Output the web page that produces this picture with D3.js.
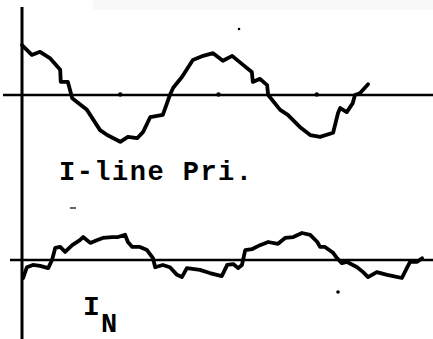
<!DOCTYPE html>
<html>
<head>
<meta charset="utf-8">
<script src="https://cdn.jsdelivr.net/npm/d3@7"></script>
<style>
  html, body { margin: 0; padding: 0; background: #fff; }
  svg { display: block; }
</style>
</head>
<body>
<svg id="chart" width="433" height="339"></svg>
<script>
// Phase angle (electrical degrees) and current (per unit) for the line primary current
const priDeg = [0, 18, 33, 51, 70, 71, 84, 88, 92, 119, 143, 156, 180, 194, 211, 222, 235, 258, 271, 277, 293, 313, 332, 350, 368, 385, 405, 421, 423, 436, 449, 451, 473, 487, 509, 528, 546, 570, 579, 583, 595, 606, 610, 619, 634];
const priVal = [1.11, 0.89, 0.96, 0.82, 0.56, 0.29, 0.29, 0.11, -0.07, -0.33, -0.78, -0.89, -1.04, -0.93, -0.96, -0.82, -0.49, -0.44, 0.0, 0.16, 0.40, 0.78, 0.87, 0.93, 0.76, 0.87, 0.67, 0.51, 0.29, 0.36, 0.22, 0.0, -0.33, -0.44, -0.71, -0.89, -0.93, -0.84, -0.40, -0.29, -0.38, -0.18, 0.0, 0.04, 0.24];

// Phase angle and current for the neutral current I_N
const neuDeg = [2, 9, 20, 33, 48, 55, 61, 70, 79, 92, 106, 112, 125, 137, 148, 165, 176, 189, 194, 202, 216, 229, 240, 244, 258, 271, 284, 293, 302, 326, 344, 366, 376, 387, 396, 403, 409, 421, 436, 451, 469, 482, 497, 513, 528, 541, 546, 555, 570, 577, 586, 595, 614, 625, 634, 650, 669, 680, 696, 705, 711, 724, 733];
const neuVal = [-0.40, -0.16, -0.11, -0.13, -0.18, 0.0, 0.27, 0.29, 0.18, 0.33, 0.44, 0.51, 0.38, 0.44, 0.49, 0.51, 0.51, 0.56, 0.40, 0.29, 0.29, 0.22, 0.04, -0.16, -0.11, -0.16, -0.33, -0.38, -0.18, -0.22, -0.29, -0.36, -0.11, -0.09, -0.18, -0.11, 0.22, 0.24, 0.33, 0.40, 0.36, 0.49, 0.51, 0.60, 0.56, 0.40, 0.29, 0.29, 0.16, 0.04, -0.07, -0.04, -0.16, -0.27, -0.38, -0.27, -0.33, -0.36, -0.40, -0.18, -0.04, -0.04, 0.04];

// Time-axis tick positions (degrees)
const tickDeg = [180, 360, 540];

const labelPri = "I-line Pri.";
const labelN = ["I", "N"];

const svg = d3.select("#chart");
const W = 433, H = 339;
const ink = "#000";

// faint band along the top edge of the sheet
svg.append("rect").attr("x", 93).attr("y", 0).attr("width", W - 93).attr("height", 10).attr("fill", "#f8f8f8");

const x = d3.scaleLinear().domain([0, 720]).range([22, 415]);
const yPri = d3.scaleLinear().domain([-1, 1]).range([140, 50]);
const yNeu = d3.scaleLinear().domain([-1, 1]).range([305, 215]);

// vertical axis
svg.append("line")
  .attr("x1", x(0)).attr("x2", x(0))
  .attr("y1", 7).attr("y2", H)
  .attr("stroke", ink).attr("stroke-width", 3);

// zero lines for the two traces
svg.append("line")
  .attr("x1", 3).attr("x2", W)
  .attr("y1", yPri(0)).attr("y2", yPri(0))
  .attr("stroke", ink).attr("stroke-width", 2.6);
svg.append("line")
  .attr("x1", 10).attr("x2", W)
  .attr("y1", yNeu(0)).attr("y2", yNeu(0))
  .attr("stroke", ink).attr("stroke-width", 2.6);

// tick dots on the primary zero line
svg.selectAll("circle.tick").data(tickDeg).join("circle")
  .attr("class", "tick")
  .attr("cx", d => x(d)).attr("cy", yPri(0) - 0.5)
  .attr("r", 2.2).attr("fill", ink);

const linePri = d3.line().x((d, i) => x(priDeg[i])).y(d => yPri(d)).curve(d3.curveLinear);
const lineNeu = d3.line().x((d, i) => x(neuDeg[i])).y(d => yNeu(d)).curve(d3.curveLinear);

svg.append("path").attr("d", linePri(priVal))
  .attr("fill", "none").attr("stroke", ink).attr("stroke-width", 3.8)
  .attr("stroke-linejoin", "round").attr("stroke-linecap", "round");
svg.append("path").attr("d", lineNeu(neuVal))
  .attr("fill", "none").attr("stroke", ink).attr("stroke-width", 3.8)
  .attr("stroke-linejoin", "round").attr("stroke-linecap", "round");

// typewritten labels
const font = "'Liberation Mono', 'Courier New', monospace";
svg.append("text")
  .attr("x", 59).attr("y", 180)
  .attr("font-family", font).attr("font-size", 27).attr("font-weight", "bold")
  .attr("textLength", 193).attr("lengthAdjust", "spacing")
  .attr("fill", ink).text(labelPri);

svg.append("text")
  .attr("x", 83).attr("y", 315)
  .attr("font-family", font).attr("font-size", 28).attr("font-weight", "bold")
  .attr("fill", ink).text(labelN[0]);
svg.append("text")
  .attr("x", 101).attr("y", 332)
  .attr("font-family", font).attr("font-size", 27).attr("font-weight", "bold")
  .attr("fill", ink).text(labelN[1]);

// small specks on the sheet
svg.append("circle").attr("cx", 239).attr("cy", 29).attr("r", 1.3).attr("fill", ink);
svg.append("circle").attr("cx", 338).attr("cy", 292).attr("r", 1.8).attr("fill", ink);
svg.append("line").attr("x1", 70).attr("x2", 76).attr("y1", 208).attr("y2", 208)
  .attr("stroke", "#333").attr("stroke-width", 1.5);
</script>
</body>
</html>
